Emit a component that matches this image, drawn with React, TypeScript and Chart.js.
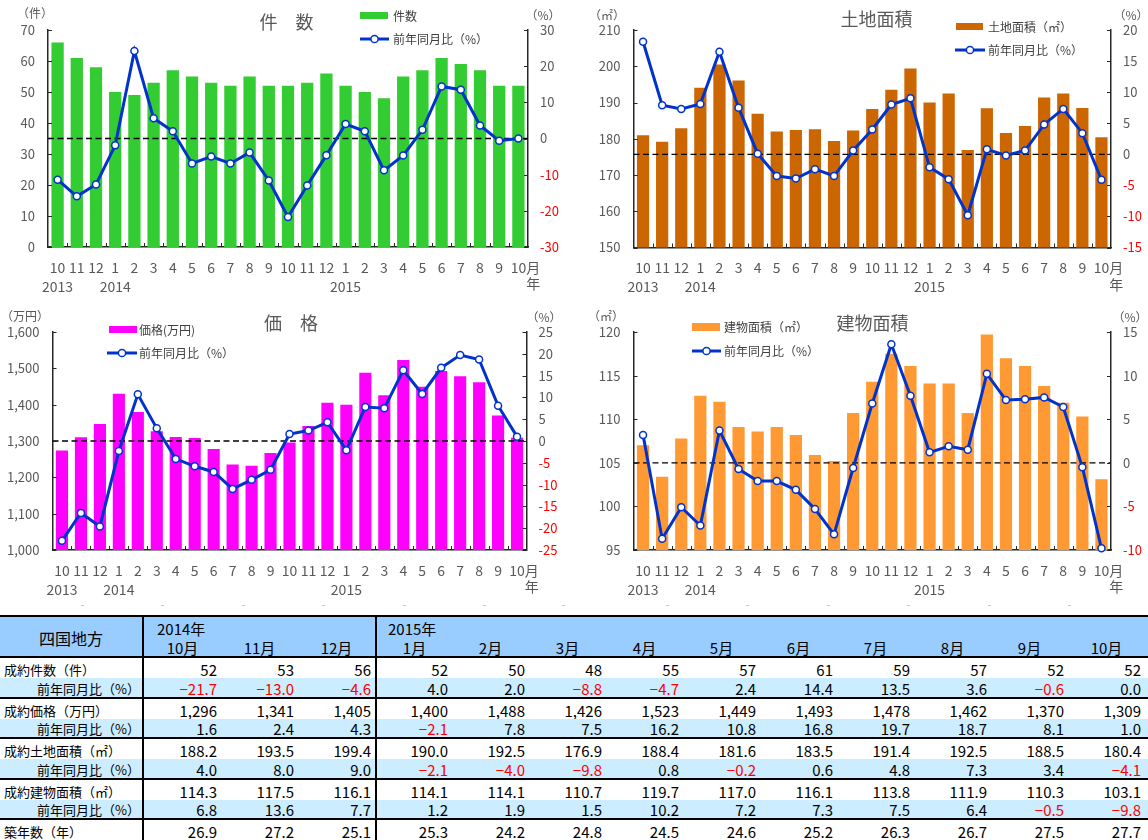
import React, { useEffect, useRef } from 'react';
import { Chart, registerables } from 'chart.js';

Chart.register(...registerables);

const FONT = '"Noto Sans CJK JP", "Noto Sans", sans-serif';
Chart.defaults.font.family = FONT;

const TICK = '#595959';
const AXIS = '#262626';
const LINE = '#0033CC';
const RED = '#FF0000';
const HDR = '#99CCFF';
const LB = '#CCECFF';

// ---------- chart data (2013/10 – 2015/10) ----------
const monthLabels = ['10', '11', '12', '1', '2', '3', '4', '5', '6', '7', '8', '9', '10', '11', '12', '1', '2', '3', '4', '5', '6', '7', '8', '9', '10'];
const yearLabels = ['2013', '', '', '2014', '', '', '', '', '', '', '', '', '', '', '', '2015', '', '', '', '', '', '', '', '', ''];

const countBars = [66, 61, 58, 50, 49, 53, 57, 55, 53, 52, 55, 52, 52, 53, 56, 52, 50, 48, 55, 57, 61, 59, 57, 52, 52];
const countYoY = [-11.4, -16.0, -12.7, -1.9, 24.2, 5.6, 2.0, -6.9, -5.0, -6.9, -3.9, -11.6, -21.7, -13.0, -4.6, 4.0, 2.0, -8.8, -4.7, 2.4, 14.4, 13.5, 3.6, -0.6, 0.0];

const landBars = [181.0, 179.2, 182.9, 194.1, 200.5, 196.1, 186.9, 182.0, 182.4, 182.6, 179.4, 182.3, 188.2, 193.5, 199.4, 190.0, 192.5, 176.9, 188.4, 181.6, 183.5, 191.4, 192.5, 188.5, 180.4];
const landYoY = [18.1, 7.9, 7.3, 8.1, 16.5, 7.5, 0.1, -3.5, -3.9, -2.4, -3.5, 0.6, 4.0, 8.0, 9.0, -2.1, -4.0, -9.8, 0.8, -0.2, 0.6, 4.8, 7.3, 3.4, -4.1];

const priceBars = [1274, 1310, 1347, 1430, 1380, 1327, 1311, 1308, 1278, 1235, 1232, 1267, 1296, 1341, 1405, 1400, 1488, 1426, 1523, 1449, 1493, 1478, 1462, 1370, 1309];
const priceYoY = [-22.9, -16.5, -19.6, -2.3, 10.7, 2.9, -4.1, -5.8, -7.1, -11.0, -8.9, -6.6, 1.6, 2.4, 4.3, -2.1, 7.8, 7.5, 16.2, 10.8, 16.8, 19.7, 18.7, 8.1, 1.0];

const bldgBars = [107.0, 103.4, 107.8, 112.7, 112.0, 109.1, 108.6, 109.1, 108.2, 105.9, 105.2, 110.7, 114.3, 117.5, 116.1, 114.1, 114.1, 110.7, 119.7, 117.0, 116.1, 113.8, 111.9, 110.3, 103.1];
const bldgYoY = [3.2, -8.7, -5.1, -7.2, 3.7, -0.7, -2.1, -2.1, -3.1, -5.3, -8.2, -0.6, 6.8, 13.6, 7.7, 1.2, 1.9, 1.5, 10.2, 7.2, 7.3, 7.5, 6.4, -0.5, -9.8];

// ---------- table data (2014/10 – 2015/10) ----------
const tableMonths = ['10月', '11月', '12月', '1月', '2月', '3月', '4月', '5月', '6月', '7月', '8月', '9月', '10月'];
const tblCount = [52, 53, 56, 52, 50, 48, 55, 57, 61, 59, 57, 52, 52];
const tblCountYoY = [-21.7, -13.0, -4.6, 4.0, 2.0, -8.8, -4.7, 2.4, 14.4, 13.5, 3.6, -0.6, 0.0];
const tblPrice = [1296, 1341, 1405, 1400, 1488, 1426, 1523, 1449, 1493, 1478, 1462, 1370, 1309];
const tblPriceYoY = [1.6, 2.4, 4.3, -2.1, 7.8, 7.5, 16.2, 10.8, 16.8, 19.7, 18.7, 8.1, 1.0];
const tblLand = [188.2, 193.5, 199.4, 190.0, 192.5, 176.9, 188.4, 181.6, 183.5, 191.4, 192.5, 188.5, 180.4];
const tblLandYoY = [4.0, 8.0, 9.0, -2.1, -4.0, -9.8, 0.8, -0.2, 0.6, 4.8, 7.3, 3.4, -4.1];
const tblBldg = [114.3, 117.5, 116.1, 114.1, 114.1, 110.7, 119.7, 117.0, 116.1, 113.8, 111.9, 110.3, 103.1];
const tblBldgYoY = [6.8, 13.6, 7.7, 1.2, 1.9, 1.5, 10.2, 7.2, 7.3, 7.5, 6.4, -0.5, -9.8];
const tblAge = [26.9, 27.2, 25.1, 25.3, 24.2, 24.8, 24.5, 24.6, 25.2, 26.3, 26.7, 27.5, 27.7];

const gridMarks = [81, 161, 242, 322, 403, 483, 562, 666, 746, 827, 907, 988, 1068];

// ---------- chart helpers ----------
const decoPlugin = {
  id: 'deco',
  afterDatasetDraw(chart: any, args: any) {
    if (args.meta.type !== 'bar') return;
    const { ctx, chartArea: a } = chart;
    const y = chart.scales.yR.getPixelForValue(0);
    ctx.save();
    ctx.strokeStyle = '#000';
    ctx.lineWidth = 1.3;
    ctx.setLineDash([6, 3.5]);
    ctx.beginPath();
    ctx.moveTo(a.left, y);
    ctx.lineTo(a.right, y);
    ctx.stroke();
    ctx.restore();
  },
  afterDraw(chart: any) {
    const { ctx, chartArea: a, scales } = chart;
    ctx.save();
    ctx.strokeStyle = AXIS;
    ctx.lineWidth = 1;
    ctx.beginPath();
    scales.yL.ticks.forEach((t: any) => {
      const y = Math.round(scales.yL.getPixelForValue(t.value)) + 0.5;
      ctx.moveTo(a.left, y);
      ctx.lineTo(a.left + 4, y);
    });
    scales.yR.ticks.forEach((t: any) => {
      const y = Math.round(scales.yR.getPixelForValue(t.value)) + 0.5;
      ctx.moveTo(a.right - 4, y);
      ctx.lineTo(a.right, y);
    });
    const n = chart.data.labels.length;
    const w = (a.right - a.left) / n;
    for (let i = 1; i < n; i++) {
      const x = Math.round(a.left + i * w) + 0.5;
      ctx.moveTo(x, a.bottom);
      ctx.lineTo(x, a.bottom - 4);
    }
    ctx.stroke();
    // 月 / 年 after the last category label
    const xs = scales.x;
    const lastX = xs.getPixelForTick(n - 1);
    ctx.font = `14px ${FONT}`;
    ctx.fillStyle = TICK;
    const lw = ctx.measureText(monthLabels[n - 1]).width;
    ctx.textAlign = 'left';
    ctx.textBaseline = 'middle';
    ctx.fillText('月', lastX + lw / 2, a.bottom + 20.5);
    ctx.fillText('年', lastX + lw / 2, a.bottom + 37);
    ctx.restore();
  },
};

interface PanelSpec {
  left: number;
  top: number;
  width: number;
  height: number;
  pad: { left: number; right: number; top: number; bottom: number };
  ylWidth: number;
  yrWidth: number;
  bars: number[];
  yoy: number[];
  color: string;
  barLabel: string;
  yl: [number, number, number];
  yr: [number, number, number];
}

function buildConfig(s: PanelSpec): any {
  const labels = monthLabels.map((m, i) => [m, yearLabels[i]]);
  return {
    type: 'bar',
    data: {
      labels,
      datasets: [
        {
          type: 'line',
          label: '前年同月比（%）',
          data: s.yoy,
          yAxisID: 'yR',
          borderColor: LINE,
          backgroundColor: LINE,
          borderWidth: 3,
          pointRadius: 3.5,
          pointBorderWidth: 1.5,
          pointBackgroundColor: '#ffffff',
          pointBorderColor: LINE,
          tension: 0,
          order: 1,
          clip: false,
        },
        {
          type: 'bar',
          label: s.barLabel,
          data: s.bars,
          yAxisID: 'yL',
          backgroundColor: s.color,
          barPercentage: 0.64,
          categoryPercentage: 1,
          order: 2,
        },
      ],
    },
    options: {
      animation: false,
      responsive: false,
      maintainAspectRatio: false,
      layout: { padding: s.pad },
      plugins: { legend: { display: false }, tooltip: { enabled: false } },
      scales: {
        x: {
          grid: { display: false, drawTicks: false },
          border: { display: true, color: AXIS, width: 1.5 },
          ticks: {
            autoSkip: false,
            maxRotation: 0,
            minRotation: 0,
            padding: 11,
            color: TICK,
            font: { size: 14, family: FONT, lineHeight: 1.36 },
          },
          afterFit: (sc: any) => {
            sc.height = 50;
          },
        },
        yL: {
          position: 'left',
          min: s.yl[0],
          max: s.yl[1],
          grid: { display: false, drawTicks: false },
          border: { display: true, color: AXIS, width: 1.5 },
          ticks: { stepSize: s.yl[2], padding: 13, color: TICK, font: { size: 13, family: FONT } },
          afterFit: (sc: any) => {
            sc.width = s.ylWidth;
          },
        },
        yR: {
          position: 'right',
          min: s.yr[0],
          max: s.yr[1],
          grid: { display: false, drawTicks: false },
          border: { display: true, color: AXIS, width: 1.5 },
          ticks: {
            stepSize: s.yr[2],
            padding: 12,
            color: (c: any) => (c.tick && c.tick.value < 0 ? RED : TICK),
            font: { size: 13, family: FONT },
          },
          afterFit: (sc: any) => {
            sc.width = s.yrWidth;
          },
        },
      },
    },
    plugins: [decoPlugin],
  };
}

function ChartPanel({ spec }: { spec: PanelSpec }) {
  const ref = useRef<HTMLCanvasElement>(null);
  useEffect(() => {
    const chart = new Chart(ref.current as HTMLCanvasElement, buildConfig(spec));
    return () => chart.destroy();
  }, []);
  return (
    <canvas
      ref={ref}
      width={spec.width}
      height={spec.height}
      style={{ position: 'absolute', left: spec.left, top: spec.top, width: spec.width, height: spec.height }}
    />
  );
}

const panels: PanelSpec[] = [
  {
    left: 0, top: 0, width: 580, height: 300,
    pad: { left: 0, right: 6, top: 30, bottom: 3 }, ylWidth: 48, yrWidth: 46,
    bars: countBars, yoy: countYoY, color: '#33CC33', barLabel: '件数',
    yl: [0, 70, 10], yr: [-30, 30, 10],
  },
  {
    left: 580, top: 0, width: 568, height: 300,
    pad: { left: 0, right: 0, top: 30, bottom: 2.5 }, ylWidth: 53.5, yrWidth: 37,
    bars: landBars, yoy: landYoY, color: '#CC6600', barLabel: '土地面積（㎡）',
    yl: [150, 210, 10], yr: [-15, 20, 5],
  },
  {
    left: 0, top: 300, width: 580, height: 300,
    pad: { left: 0, right: 6, top: 32, bottom: 0 }, ylWidth: 52.5, yrWidth: 47.5,
    bars: priceBars, yoy: priceYoY, color: '#FF00FF', barLabel: '価格(万円)',
    yl: [1000, 1600, 100], yr: [-25, 25, 5],
  },
  {
    left: 580, top: 300, width: 568, height: 300,
    pad: { left: 0, right: 0, top: 32, bottom: 0 }, ylWidth: 53.5, yrWidth: 37,
    bars: bldgBars, yoy: bldgYoY, color: '#FF9933', barLabel: '建物面積（㎡）',
    yl: [95, 120, 5], yr: [-10, 15, 5],
  },
];

// ---------- overlay texts ----------
function Txt({ x, y, text, size = 12, color = '#404040', align = 'left' }: any) {
  return (
    <div
      style={{
        position: 'absolute',
        left: x,
        top: y,
        transform: align === 'center' ? 'translate(-50%,-50%)' : 'translate(0,-50%)',
        fontSize: size,
        lineHeight: 1.2,
        color,
        whiteSpace: 'nowrap',
        fontFamily: FONT,
      }}
    >
      {text}
    </div>
  );
}

function LegendBox({ x, y, w, h, color }: any) {
  return <div style={{ position: 'absolute', left: x, top: y, width: w, height: h, background: color }} />;
}

function LegendLine({ x, y, w }: any) {
  return (
    <svg style={{ position: 'absolute', left: x, top: y - 6 }} width={w} height={12}>
      <line x1={0} y1={6} x2={w} y2={6} stroke={LINE} strokeWidth={3} />
      <circle cx={w / 2} cy={6} r={3.6} fill="#ffffff" stroke={LINE} strokeWidth={1.5} />
    </svg>
  );
}

function Overlays() {
  return (
    <>
      {/* chart 1 */}
      <Txt x={35} y={13} text="（件）" color={TICK} align="center" />
      <Txt x={543} y={15} text="（%）" color={TICK} align="center" />
      <Txt x={286.5} y={22} text="件　数" size={18} color={TICK} align="center" />
      <LegendBox x={360} y={12} w={28} h={7} color="#33CC33" />
      <Txt x={393} y={15.5} text="件数" />
      <LegendLine x={360} y={38.5} w={29} />
      <Txt x={393} y={38.5} text="前年同月比（%）" />
      {/* chart 2 */}
      <Txt x={607} y={15} text="（㎡）" color={TICK} align="center" />
      <Txt x={1131} y={15} text="（%）" color={TICK} align="center" />
      <Txt x={876.5} y={19} text="土地面積" size={18} color={TICK} align="center" />
      <LegendBox x={956} y={23} w={27} h={7} color="#CC6600" />
      <Txt x={988} y={26.5} text="土地面積（㎡）" />
      <LegendLine x={955} y={50} w={30} />
      <Txt x={988} y={50} text="前年同月比（%）" />
      {/* chart 3 */}
      <Txt x={25} y={316} text="（万円）" color={TICK} align="center" />
      <Txt x={544} y={317} text="（%）" color={TICK} align="center" />
      <Txt x={291} y={323} text="価　格" size={18} color={TICK} align="center" />
      <LegendBox x={109} y={326} w={28} h={7} color="#FF00FF" />
      <Txt x={139} y={330} text="価格(万円)" />
      <LegendLine x={107} y={353} w={30} />
      <Txt x={139} y={353} text="前年同月比（%）" />
      {/* chart 4 */}
      <Txt x={606} y={316} text="（㎡）" color={TICK} align="center" />
      <Txt x={1130} y={317} text="（%）" color={TICK} align="center" />
      <Txt x={872.5} y={323} text="建物面積" size={18} color={TICK} align="center" />
      <LegendBox x={692} y={323} w={28} h={8} color="#FF9933" />
      <Txt x={724} y={326.5} text="建物面積（㎡）" />
      <LegendLine x={692} y={351} w={29} />
      <Txt x={724} y={351} text="前年同月比（%）" />
      {gridMarks.map((x, i) => (
        <div key={i} style={{ position: 'absolute', left: x, top: 605, width: 3, height: 1, background: '#c8c8c8' }} />
      ))}
    </>
  );
}

// ---------- table ----------
function fmt1(v: number) {
  const s = Math.abs(v).toFixed(1);
  return v < 0 ? '−' + s : s;
}
function fmtInt(v: number) {
  return v.toLocaleString('en-US');
}

function DataTable() {
  const B = '2px solid #000';
  const base: React.CSSProperties = {
    padding: '0 4px',
    fontSize: 15,
    lineHeight: '16px',
    verticalAlign: 'bottom',
    whiteSpace: 'nowrap',
    overflow: 'hidden',
    textAlign: 'right',
    fontFamily: FONT,
    color: '#000',
  };
  const rows = [
    { label: '成約件数（件）', vals: tblCount.map(fmtInt), nums: tblCount, sub: false },
    { label: '前年同月比（%）', vals: tblCountYoY.map(fmt1), nums: tblCountYoY, sub: true },
    { label: '成約価格（万円）', vals: tblPrice.map(fmtInt), nums: tblPrice, sub: false },
    { label: '前年同月比（%）', vals: tblPriceYoY.map(fmt1), nums: tblPriceYoY, sub: true },
    { label: '成約土地面積（㎡）', vals: tblLand.map(fmt1), nums: tblLand, sub: false },
    { label: '前年同月比（%）', vals: tblLandYoY.map(fmt1), nums: tblLandYoY, sub: true },
    { label: '成約建物面積（㎡）', vals: tblBldg.map(fmt1), nums: tblBldg, sub: false },
    { label: '前年同月比（%）', vals: tblBldgYoY.map(fmt1), nums: tblBldgYoY, sub: true },
    { label: '築年数（年）', vals: tblAge.map(fmt1), nums: tblAge, sub: false },
  ];
  return (
    <table
      style={{
        position: 'absolute',
        left: 0,
        top: 615,
        width: 1160,
        borderCollapse: 'separate',
        borderSpacing: 0,
        tableLayout: 'fixed',
      }}
    >
      <colgroup>
        <col style={{ width: 144 }} />
        {tableMonths.map((_, i) => (
          <col key={i} style={{ width: 77 }} />
        ))}
        <col style={{ width: 15 }} />
      </colgroup>
      <tbody>
        <tr style={{ height: 21.5 }}>
          <td
            rowSpan={2}
            style={{ ...base, background: HDR, borderTop: B, borderBottom: B, borderRight: B, textAlign: 'center', verticalAlign: 'middle', fontSize: 16, paddingTop: 3 }}
          >
            四国地方
          </td>
          <td colSpan={3} style={{ ...base, background: HDR, borderTop: B, textAlign: 'left', paddingLeft: 13 }}>
            2014年
          </td>
          <td colSpan={10} style={{ ...base, background: HDR, borderTop: B, borderLeft: B, textAlign: 'left', paddingLeft: 11 }}>
            2015年
          </td>
          <td rowSpan={2} style={{ ...base, background: HDR, borderTop: B, borderBottom: B }} />
        </tr>
        <tr style={{ height: 21.5 }}>
          {tableMonths.map((m, i) => (
            <td key={i} style={{ ...base, background: HDR, borderBottom: B, borderLeft: i === 3 ? B : undefined, textAlign: 'center' }}>
              {m}
            </td>
          ))}
        </tr>
        {rows.map((r, ri) => {
          const bg = r.sub ? LB : '#ffffff';
          const bb = r.sub ? B : undefined;
          return (
            <tr key={ri} style={{ height: r.sub ? 20.5 : 20 }}>
              <td
                style={{
                  ...base,
                  fontSize: 13,
                  background: bg,
                  borderRight: B,
                  borderBottom: bb,
                  textAlign: r.sub ? 'right' : 'left',
                  paddingLeft: r.sub ? 0 : 4,
                  paddingRight: r.sub ? 2 : 0,
                }}
              >
                {r.label}
              </td>
              {r.vals.map((v, i) => (
                <td
                  key={i}
                  style={{
                    ...base,
                    background: bg,
                    borderBottom: bb,
                    borderLeft: i === 3 ? B : undefined,
                    color: r.nums[i] < 0 ? RED : '#000',
                  }}
                >
                  {v}
                </td>
              ))}
              <td style={{ ...base, background: bg, borderBottom: bb }} />
            </tr>
          );
        })}
      </tbody>
    </table>
  );
}

export default function App() {
  return (
    <div
      style={{
        position: 'absolute',
        left: 0,
        top: 0,
        width: 1148,
        height: 840,
        overflow: 'hidden',
        background: '#ffffff',
        fontFamily: FONT,
      }}
    >
      {panels.map((p, i) => (
        <ChartPanel key={i} spec={p} />
      ))}
      <Overlays />
      <DataTable />
    </div>
  );
}
